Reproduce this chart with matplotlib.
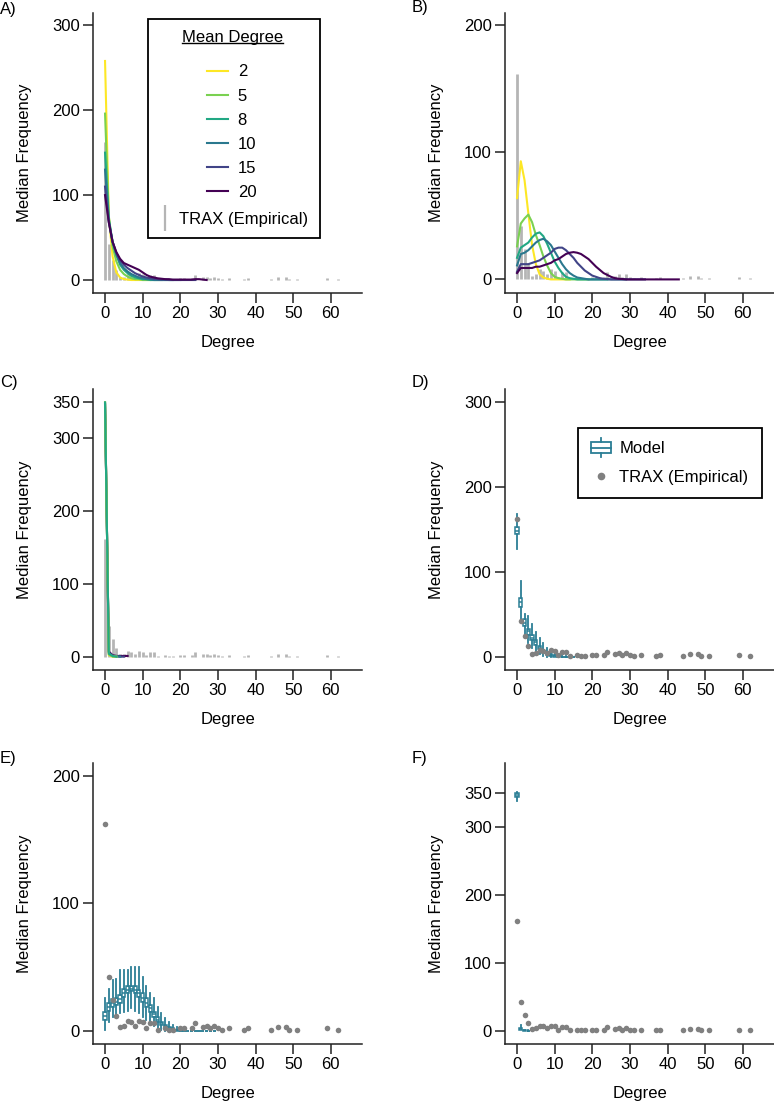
import matplotlib
matplotlib.use('Agg')
import matplotlib.pyplot as plt
from matplotlib.lines import Line2D
from matplotlib.patches import Rectangle
from matplotlib.legend_handler import HandlerBase

plt.rcParams['font.family'] = ['Liberation Sans', 'DejaVu Sans']
plt.rcParams['font.size'] = 12

# ---------------- data ----------------
mean_degrees = ['2', '5', '8', '10', '15', '20']
curve_colors = ['#FDE725', '#7AD151', '#22A884', '#2A788E', '#414487', '#440154']

trax_degree = [0, 1, 2, 3, 4, 5, 6, 7, 8, 9, 10, 11, 12, 13, 14, 16, 17, 18, 20, 21,
               23, 24, 26, 27, 28, 29, 30, 31, 33, 37, 38, 44, 46, 48, 49, 51, 59, 62]
trax_freq = [162, 42, 24, 12, 3, 4, 8, 7, 4, 8, 7, 2, 6, 6, 1, 2, 1, 1, 2, 2,
             2, 6, 3, 4, 2, 4, 2, 1, 2, 1, 2, 1, 3, 3, 1, 1, 2, 1]

# Panel A model curves (median frequency at degree 0,1,2,...)
a_2 = [258, 75, 28, 9, 3, 1, 0.5, 0, 0, 0, 0, 0, 0]
a_5 = [196, 75, 40, 22, 12, 7, 4, 2, 1, 1, 0, 0, 0, 0, 0, 0]
a_8 = [150, 72, 45, 30, 18, 12, 8, 5, 3, 2, 1, 1, 0, 0, 0, 0, 0, 0, 0]
a_10 = [130, 70, 45, 30, 20, 14, 10, 7, 5, 3, 2, 1, 1, 0, 0, 0, 0, 0, 0, 0, 0]
a_15 = [110, 68, 45, 32, 23, 18, 14, 11, 8, 6, 4, 3, 2, 1.5, 1, 0.5, 0.5, 0, 0, 0,
        0, 0, 0, 0, 0]
a_20 = [100, 68, 45, 33, 25, 20, 18, 16, 14, 12, 9, 6, 4, 3, 2, 1.5, 1, 1, 0.5, 0.5,
        0.5, 0.5, 0.5, 0.5, 1, 1, 0.5, 0]

# Panel B model curves
b_2 = [64, 93, 78, 52, 27, 12, 4, 1.5, 0.5, 0, 0, 0, 0, 0, 0]
b_5 = [26, 44, 48, 51, 45, 35, 27, 18, 11, 5, 2, 1, 0.5, 0, 0, 0, 0, 0, 0, 0]
b_8 = [17, 25, 27, 29, 33, 36, 37, 34, 28, 21, 14, 9, 5, 2, 1, 0.5, 0, 0, 0, 0,
       0, 0, 0, 0, 0]
b_10 = [11, 20, 21, 23, 26, 29, 31, 32, 30, 27, 22, 17, 12, 8, 5, 3, 1.5, 1, 0.5, 0,
        0, 0, 0, 0, 0, 0, 0, 0, 0, 0]
b_15 = [6, 12, 12, 12, 13, 14, 15, 17, 19, 21, 24, 25, 25, 23, 20, 17, 13, 10, 7, 5,
        3, 2, 1, 0.5, 0.3, 0, 0, 0, 0, 0, 0, 0, 0, 0, 0]
b_20 = [5, 9, 9, 9, 9, 10, 10, 11, 12, 13, 15, 16, 18, 20, 21, 21.5, 21, 20, 18, 16,
        13, 10, 7.5, 5, 3.5, 2, 1, 0.5, 0.3, 0, 0, 0, 0, 0, 0, 0, 0, 0, 0, 0,
        0, 0, 0, 0]

# Panel C model curves
c_2 = [349, 2, 0, 0]
c_5 = [349, 3, 0, 0]
c_8 = [349, 4, 1, 0]
c_10 = [348, 5, 1, 0, 0]
c_15 = [347, 6, 1, 1, 0, 0]
c_20 = [346, 7, 2, 1, 1, 1, 1]

# Panel D boxplot summaries
d_degree = list(range(18))
d_med = [148, 64, 40, 30, 22, 17, 10, 6, 3, 2, 1, 0.5, 0, 0, 0, 0, 0, 0]
d_q1 = [144, 59, 36, 26, 20, 14, 8.6, 4, 2, 1, 0, 0, 0, 0, 0, 0, 0, 0]
d_q3 = [153, 69, 44, 33, 25, 20, 12.5, 7, 5, 3, 2, 1, 0, 0, 0, 0, 0, 0]
d_lo = [127, 43, 26, 16, 10, 6, 3, 1, 0, 0, 0, 0, 0, 0, 0, 0, 0, 0]
d_hi = [168, 89, 50, 48, 38, 29, 22, 16, 10, 7, 4, 3, 2, 1, 0, 0, 0, 0]

# Panel E boxplot summaries
e_degree = list(range(30))
e_med = [12, 19, 22, 23, 25, 30, 32, 33, 32, 30, 26, 22, 18, 13, 9, 6, 4, 2, 1, 1,
         0, 0, 0, 0, 0, 0, 0, 0, 0, 0]
e_q1 = [9, 16, 19, 20, 22, 27, 29.5, 31, 29.5, 27, 23, 19, 15, 11, 7, 4.7, 3, 1.5, 1, 0,
        0, 0, 0, 0, 0, 0, 0, 0, 0, 0]
e_q3 = [15, 22, 25, 26, 28, 33, 35, 35.5, 35, 32, 29.5, 25.6, 20, 15, 11, 7, 5, 3, 2, 1,
        1, 0, 0, 0, 0, 0, 0, 0, 0, 0]
e_lo = [1, 7, 11, 12.5, 14, 15, 16, 18, 16, 14, 11, 8.6, 6, 4, 2, 1, 0, 0, 0, 0,
        0, 0, 0, 0, 0, 0, 0, 0, 0, 0]
e_hi = [26, 33, 40, 41, 48, 48, 48, 50, 50, 50, 42, 35, 29.5, 25.6, 19, 14, 10, 7, 5, 3,
        2, 0, 0, 0, 0, 0, 0, 0, 0, 0]

# Panel F boxplot summaries
f_degree = [0, 1, 2, 3]
f_med = [348, 3, 1, 0]
f_q1 = [345, 2, 0, 0]
f_q3 = [351, 4, 1, 0]
f_lo = [338, 1, 0, 0]
f_hi = [352, 9, 2, 1]

MODEL_COLOR = '#2B7E95'
BAR_COLOR = '#b5b5b5'
DOT_COLOR = '#808080'
AXIS_COLOR = '#222222'

# ---------------- figure ----------------
fig = plt.figure(figsize=(7.74, 11.02), dpi=100)


def make_ax(l, t, r, b):
    return fig.add_axes([l / 774, 1 - b / 1102, (r - l) / 774, (b - t) / 1102])


def style(ax, ylim, yticks):
    ax.set_xlim(-3.2, 68.3)
    ax.set_ylim(*ylim)
    ax.set_xticks(range(0, 61, 10))
    ax.set_yticks(yticks)
    for s in ['top', 'right']:
        ax.spines[s].set_visible(False)
    for s in ['left', 'bottom']:
        ax.spines[s].set_linewidth(1.1)
        ax.spines[s].set_color(AXIS_COLOR)
    ax.tick_params(length=7, width=1.1, color=AXIS_COLOR, pad=2.5, labelsize=12,
                   labelcolor='black')
    ax.set_ylabel('Median Frequency', fontsize=12)
    ax.yaxis.set_label_coords(-0.225, 0.5)
    ax.set_xlabel('Degree', fontsize=12)
    ax.xaxis.set_label_coords(0.5, -0.15)


def draw_bars(ax):
    ax.vlines(trax_degree, 0, trax_freq, colors=BAR_COLOR, linewidth=2.0, zorder=1)


def draw_curves(ax, curves, order=None):
    if order is None:
        order = range(len(curves))
    for z, i in enumerate(order):
        y = curves[i]
        ax.plot(range(len(y)), y, color=curve_colors[i], lw=1.5, zorder=2 + z,
                solid_joinstyle='round')


def draw_boxes(ax, deg, med, q1, q3, lo, hi):
    stats = [dict(med=m, q1=a, q3=b, whislo=l, whishi=h, fliers=[])
             for m, a, b, l, h in zip(med, q1, q3, lo, hi)]
    ax.bxp(stats, positions=deg, widths=0.85, showfliers=False, showcaps=False,
           patch_artist=True, manage_ticks=False,
           boxprops=dict(facecolor='white', edgecolor=MODEL_COLOR, lw=1.1),
           medianprops=dict(color=MODEL_COLOR, lw=1.1),
           whiskerprops=dict(color=MODEL_COLOR, lw=1.3), zorder=2)


def draw_dots(ax):
    ax.scatter(trax_degree, trax_freq, s=16, color=DOT_COLOR, zorder=4, linewidths=0)


# Panel A
axA = make_ax(93, 13, 362, 293)
draw_bars(axA)
draw_curves(axA, [a_2, a_5, a_8, a_10, a_15, a_20])
style(axA, (-15.3, 314.5), [0, 100, 200, 300])

frame = Rectangle((0.204, 0.196), 0.64, 0.783, transform=axA.transAxes,
                  facecolor='white', edgecolor='black', lw=1.3, zorder=6, clip_on=False)
axA.add_patch(frame)
title_txt = axA.text(0.517, 0.8975, 'Mean Degree', transform=axA.transAxes,
                     ha='center', va='baseline', fontsize=12, zorder=7)
handles = [Line2D([], [], color=c, lw=1.5) for c in curve_colors]
leg1 = axA.legend(handles, mean_degrees, loc='center',
                  bbox_to_anchor=(0.515, 0.574), frameon=False, handlelength=1.25,
                  handletextpad=0.6, labelspacing=0.55, fontsize=12, borderpad=0.1)
leg1.set_zorder(7)
axA.add_artist(leg1)
trax_handle = Line2D([], [], marker='|', ms=19, mew=1.6, color=BAR_COLOR, ls='none')
leg2 = axA.legend([trax_handle], ['TRAX (Empirical)'], loc='center',
                  bbox_to_anchor=(0.525, 0.262), frameon=False, handlelength=0.6,
                  handletextpad=0.5, fontsize=12, borderpad=0.1)
leg2.set_zorder(7)

# Panel B
axB = make_ax(505, 13, 774, 293)
draw_bars(axB)
draw_curves(axB, [b_2, b_5, b_8, b_10, b_15, b_20])
style(axB, (-10.7, 209.7), [0, 100, 200])

# Panel C
axC = make_ax(93, 389, 362, 670)
draw_bars(axC)
draw_curves(axC, [c_2, c_5, c_8, c_10, c_15, c_20], order=[5, 4, 3, 0, 1, 2])
style(axC, (-18.3, 367.4), [0, 100, 200, 300, 350])

# Panel D
axD = make_ax(505, 389, 774, 670)
draw_boxes(axD, d_degree, d_med, d_q1, d_q3, d_lo, d_hi)
draw_dots(axD)
style(axD, (-15.7, 314.9), [0, 100, 200, 300])


class BoxHandler(HandlerBase):
    def create_artists(self, legend, orig_handle, xdescent, ydescent, width, height,
                       fontsize, trans):
        x0 = -xdescent
        y0 = -ydescent
        cx = x0 + width / 2
        bh = height * 0.95
        by = y0 + (height - bh) / 2
        rect = Rectangle((x0, by), width, bh, facecolor='white', edgecolor=MODEL_COLOR,
                         lw=1.3, transform=trans)
        med = Line2D([x0, x0 + width], [y0 + height / 2] * 2, color=MODEL_COLOR, lw=1.3,
                     transform=trans)
        w1 = Line2D([cx, cx], [by + bh, by + bh + height * 0.35], color=MODEL_COLOR,
                    lw=1.3, transform=trans)
        w2 = Line2D([cx, cx], [by, by - height * 0.35], color=MODEL_COLOR, lw=1.3,
                    transform=trans)
        return [rect, med, w1, w2]


model_handle = Rectangle((0, 0), 1, 1)
dot_handle = Line2D([], [], marker='o', ms=5.5, color=DOT_COLOR, ls='none', mew=0)
legD = axD.legend([model_handle, dot_handle], ['Model', 'TRAX (Empirical)'],
                  handler_map={Rectangle: BoxHandler()}, loc='upper left',
                  bbox_to_anchor=(0.27, 0.861), fancybox=False, edgecolor='black',
                  framealpha=1, fontsize=12, handlelength=1.2, handletextpad=0.5,
                  labelspacing=0.8, borderpad=0.8, borderaxespad=0)
legD.get_frame().set_linewidth(1.3)

# Panel E
axE = make_ax(93, 763, 362, 1044)
draw_boxes(axE, e_degree, e_med, e_q1, e_q3, e_lo, e_hi)
draw_dots(axE)
style(axE, (-10.2, 210.2), [0, 100, 200])

# Panel F
axF = make_ax(505, 763, 774, 1044)
draw_boxes(axF, f_degree, f_med, f_q1, f_q3, f_lo, f_hi)
draw_dots(axF)
style(axF, (-19.1, 394.6), [0, 100, 200, 300, 350])

# panel letters
for lab, x, y in [('A)', 0, 2), ('B)', 412, 0), ('C)', 0, 375), ('D)', 412, 375),
                  ('E)', 0, 751), ('F)', 412, 751)]:
    fig.text(x / 774, 1 - y / 1102, lab, fontsize=12, va='top', ha='left')

# underline the legend title
fig.canvas.draw()
r = fig.canvas.get_renderer()
bb = title_txt.get_window_extent(r).transformed(axA.transAxes.inverted())
axA.add_line(Line2D([bb.x0, bb.x1], [0.8925, 0.8925], color='black', lw=1.0,
                    transform=axA.transAxes, zorder=8, clip_on=False))

fig.savefig('out.png', dpi=100, facecolor='white')
